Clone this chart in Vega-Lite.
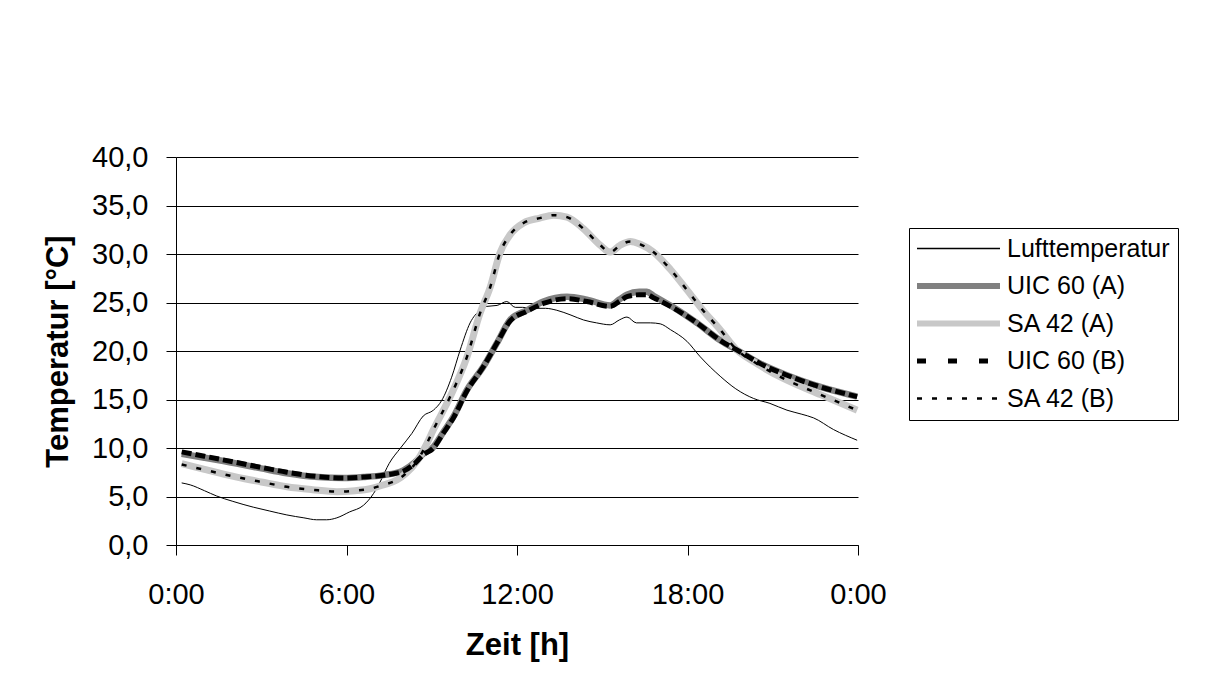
{
  "$schema": "https://vega.github.io/schema/vega-lite/v6.json",
  "width": 682,
  "height": 388,
  "autosize": "none",
  "padding": {"left": 176, "top": 157, "right": 353, "bottom": 142},
  "background": "white",
  "config": {
    "font": "Liberation Sans",
    "view": {"stroke": null},
    "axis": {"labelFont": "Liberation Sans", "titleFont": "Liberation Sans", "labelColor": "black", "titleColor": "black", "domainColor": "black", "tickColor": "black"}
  },
  "datasets": {
    "temps": [
      {"s": "Lufttemperatur", "h": 0.2, "t": 6.4},
      {"s": "Lufttemperatur", "h": 0.5, "t": 6.2},
      {"s": "Lufttemperatur", "h": 1.0, "t": 5.6},
      {"s": "Lufttemperatur", "h": 1.43, "t": 5.05},
      {"s": "Lufttemperatur", "h": 2.0, "t": 4.5},
      {"s": "Lufttemperatur", "h": 2.72, "t": 3.9},
      {"s": "Lufttemperatur", "h": 3.3, "t": 3.5},
      {"s": "Lufttemperatur", "h": 3.9, "t": 3.1},
      {"s": "Lufttemperatur", "h": 4.5, "t": 2.8},
      {"s": "Lufttemperatur", "h": 4.95, "t": 2.6},
      {"s": "Lufttemperatur", "h": 5.3, "t": 2.6},
      {"s": "Lufttemperatur", "h": 5.66, "t": 2.8},
      {"s": "Lufttemperatur", "h": 6.1, "t": 3.4},
      {"s": "Lufttemperatur", "h": 6.6, "t": 4.1},
      {"s": "Lufttemperatur", "h": 6.95, "t": 5.3},
      {"s": "Lufttemperatur", "h": 7.2, "t": 6.6},
      {"s": "Lufttemperatur", "h": 7.5, "t": 8.4},
      {"s": "Lufttemperatur", "h": 7.9, "t": 10.0},
      {"s": "Lufttemperatur", "h": 8.3, "t": 11.5},
      {"s": "Lufttemperatur", "h": 8.7, "t": 13.3},
      {"s": "Lufttemperatur", "h": 9.06, "t": 13.9},
      {"s": "Lufttemperatur", "h": 9.35, "t": 14.9},
      {"s": "Lufttemperatur", "h": 9.7, "t": 17.3},
      {"s": "Lufttemperatur", "h": 10.0, "t": 20.1},
      {"s": "Lufttemperatur", "h": 10.35, "t": 22.9},
      {"s": "Lufttemperatur", "h": 10.7, "t": 24.2},
      {"s": "Lufttemperatur", "h": 10.94, "t": 24.6},
      {"s": "Lufttemperatur", "h": 11.3, "t": 24.7},
      {"s": "Lufttemperatur", "h": 11.64, "t": 25.1},
      {"s": "Lufttemperatur", "h": 11.94, "t": 24.5},
      {"s": "Lufttemperatur", "h": 12.2, "t": 24.5},
      {"s": "Lufttemperatur", "h": 12.58, "t": 24.4},
      {"s": "Lufttemperatur", "h": 13.0, "t": 24.4},
      {"s": "Lufttemperatur", "h": 13.4, "t": 24.2},
      {"s": "Lufttemperatur", "h": 13.9, "t": 23.7},
      {"s": "Lufttemperatur", "h": 14.34, "t": 23.2},
      {"s": "Lufttemperatur", "h": 14.8, "t": 22.9},
      {"s": "Lufttemperatur", "h": 15.28, "t": 22.7},
      {"s": "Lufttemperatur", "h": 15.6, "t": 23.2},
      {"s": "Lufttemperatur", "h": 15.87, "t": 23.5},
      {"s": "Lufttemperatur", "h": 16.2, "t": 22.9},
      {"s": "Lufttemperatur", "h": 16.7, "t": 22.9},
      {"s": "Lufttemperatur", "h": 17.04, "t": 22.8},
      {"s": "Lufttemperatur", "h": 17.4, "t": 22.2},
      {"s": "Lufttemperatur", "h": 17.98, "t": 21.0},
      {"s": "Lufttemperatur", "h": 18.45, "t": 19.4},
      {"s": "Lufttemperatur", "h": 19.15, "t": 17.4},
      {"s": "Lufttemperatur", "h": 19.7, "t": 16.1},
      {"s": "Lufttemperatur", "h": 20.33, "t": 15.1},
      {"s": "Lufttemperatur", "h": 20.9, "t": 14.6},
      {"s": "Lufttemperatur", "h": 21.5, "t": 13.9},
      {"s": "Lufttemperatur", "h": 22.0, "t": 13.5},
      {"s": "Lufttemperatur", "h": 22.44, "t": 13.1},
      {"s": "Lufttemperatur", "h": 23.14, "t": 11.9},
      {"s": "Lufttemperatur", "h": 23.97, "t": 10.8},

      {"s": "UIC 60 (A)", "h": 0.2, "t": 9.4},
      {"s": "UIC 60 (A)", "h": 1.0, "t": 9.0},
      {"s": "UIC 60 (A)", "h": 2.14, "t": 8.4},
      {"s": "UIC 60 (A)", "h": 3.0, "t": 7.9},
      {"s": "UIC 60 (A)", "h": 3.9, "t": 7.4},
      {"s": "UIC 60 (A)", "h": 5.0, "t": 7.0},
      {"s": "UIC 60 (A)", "h": 5.9, "t": 6.9},
      {"s": "UIC 60 (A)", "h": 6.6, "t": 7.0},
      {"s": "UIC 60 (A)", "h": 7.3, "t": 7.2},
      {"s": "UIC 60 (A)", "h": 8.0, "t": 7.7},
      {"s": "UIC 60 (A)", "h": 8.4, "t": 8.5},
      {"s": "UIC 60 (A)", "h": 8.7, "t": 9.4},
      {"s": "UIC 60 (A)", "h": 9.06, "t": 10.1},
      {"s": "UIC 60 (A)", "h": 9.4, "t": 11.6},
      {"s": "UIC 60 (A)", "h": 9.76, "t": 13.2},
      {"s": "UIC 60 (A)", "h": 10.24, "t": 16.0},
      {"s": "UIC 60 (A)", "h": 10.82, "t": 18.4},
      {"s": "UIC 60 (A)", "h": 11.29, "t": 20.8},
      {"s": "UIC 60 (A)", "h": 11.76, "t": 23.2},
      {"s": "UIC 60 (A)", "h": 12.35, "t": 24.2},
      {"s": "UIC 60 (A)", "h": 12.93, "t": 25.1},
      {"s": "UIC 60 (A)", "h": 13.76, "t": 25.6},
      {"s": "UIC 60 (A)", "h": 14.46, "t": 25.3},
      {"s": "UIC 60 (A)", "h": 15.28, "t": 24.7},
      {"s": "UIC 60 (A)", "h": 15.6, "t": 25.3},
      {"s": "UIC 60 (A)", "h": 15.87, "t": 25.8},
      {"s": "UIC 60 (A)", "h": 16.3, "t": 26.1},
      {"s": "UIC 60 (A)", "h": 16.57, "t": 26.1},
      {"s": "UIC 60 (A)", "h": 16.8, "t": 25.7},
      {"s": "UIC 60 (A)", "h": 17.4, "t": 24.7},
      {"s": "UIC 60 (A)", "h": 18.33, "t": 22.9},
      {"s": "UIC 60 (A)", "h": 19.15, "t": 21.1},
      {"s": "UIC 60 (A)", "h": 19.86, "t": 19.9},
      {"s": "UIC 60 (A)", "h": 20.56, "t": 18.7},
      {"s": "UIC 60 (A)", "h": 21.5, "t": 17.5},
      {"s": "UIC 60 (A)", "h": 22.68, "t": 16.3},
      {"s": "UIC 60 (A)", "h": 23.97, "t": 15.3},

      {"s": "SA 42 (A)", "h": 0.2, "t": 8.4},
      {"s": "SA 42 (A)", "h": 1.0, "t": 7.8},
      {"s": "SA 42 (A)", "h": 2.14, "t": 7.0},
      {"s": "SA 42 (A)", "h": 3.0, "t": 6.5},
      {"s": "SA 42 (A)", "h": 3.9, "t": 6.0},
      {"s": "SA 42 (A)", "h": 4.8, "t": 5.7},
      {"s": "SA 42 (A)", "h": 5.66, "t": 5.5},
      {"s": "SA 42 (A)", "h": 6.3, "t": 5.6},
      {"s": "SA 42 (A)", "h": 6.83, "t": 5.8},
      {"s": "SA 42 (A)", "h": 7.3, "t": 6.2},
      {"s": "SA 42 (A)", "h": 7.77, "t": 6.7},
      {"s": "SA 42 (A)", "h": 8.1, "t": 7.4},
      {"s": "SA 42 (A)", "h": 8.47, "t": 8.6},
      {"s": "SA 42 (A)", "h": 8.8, "t": 10.3},
      {"s": "SA 42 (A)", "h": 9.06, "t": 11.9},
      {"s": "SA 42 (A)", "h": 9.65, "t": 15.3},
      {"s": "SA 42 (A)", "h": 10.24, "t": 19.4},
      {"s": "SA 42 (A)", "h": 10.7, "t": 23.9},
      {"s": "SA 42 (A)", "h": 11.06, "t": 26.6},
      {"s": "SA 42 (A)", "h": 11.4, "t": 30.1},
      {"s": "SA 42 (A)", "h": 11.76, "t": 32.0},
      {"s": "SA 42 (A)", "h": 12.23, "t": 33.2},
      {"s": "SA 42 (A)", "h": 12.8, "t": 33.7},
      {"s": "SA 42 (A)", "h": 13.29, "t": 34.0},
      {"s": "SA 42 (A)", "h": 13.76, "t": 33.8},
      {"s": "SA 42 (A)", "h": 14.34, "t": 32.6},
      {"s": "SA 42 (A)", "h": 14.93, "t": 30.9},
      {"s": "SA 42 (A)", "h": 15.28, "t": 30.2},
      {"s": "SA 42 (A)", "h": 15.63, "t": 30.9},
      {"s": "SA 42 (A)", "h": 15.99, "t": 31.3},
      {"s": "SA 42 (A)", "h": 16.34, "t": 31.0},
      {"s": "SA 42 (A)", "h": 16.8, "t": 30.2},
      {"s": "SA 42 (A)", "h": 17.4, "t": 28.4},
      {"s": "SA 42 (A)", "h": 17.98, "t": 26.3},
      {"s": "SA 42 (A)", "h": 18.57, "t": 24.1},
      {"s": "SA 42 (A)", "h": 19.15, "t": 22.2},
      {"s": "SA 42 (A)", "h": 19.74, "t": 20.1},
      {"s": "SA 42 (A)", "h": 20.33, "t": 18.9},
      {"s": "SA 42 (A)", "h": 20.9, "t": 17.9},
      {"s": "SA 42 (A)", "h": 21.5, "t": 17.0},
      {"s": "SA 42 (A)", "h": 22.68, "t": 15.5},
      {"s": "SA 42 (A)", "h": 23.97, "t": 13.9},

      {"s": "UIC 60 (B)", "h": 0.2, "t": 9.6},
      {"s": "UIC 60 (B)", "h": 1.0, "t": 9.15},
      {"s": "UIC 60 (B)", "h": 2.14, "t": 8.5},
      {"s": "UIC 60 (B)", "h": 3.0, "t": 8.0},
      {"s": "UIC 60 (B)", "h": 3.9, "t": 7.5},
      {"s": "UIC 60 (B)", "h": 5.0, "t": 7.05},
      {"s": "UIC 60 (B)", "h": 5.9, "t": 6.9},
      {"s": "UIC 60 (B)", "h": 6.6, "t": 7.0},
      {"s": "UIC 60 (B)", "h": 7.3, "t": 7.2},
      {"s": "UIC 60 (B)", "h": 8.0, "t": 7.6},
      {"s": "UIC 60 (B)", "h": 8.4, "t": 8.4},
      {"s": "UIC 60 (B)", "h": 8.7, "t": 9.3},
      {"s": "UIC 60 (B)", "h": 9.06, "t": 10.0},
      {"s": "UIC 60 (B)", "h": 9.4, "t": 11.5},
      {"s": "UIC 60 (B)", "h": 9.76, "t": 13.1},
      {"s": "UIC 60 (B)", "h": 10.24, "t": 15.9},
      {"s": "UIC 60 (B)", "h": 10.82, "t": 18.4},
      {"s": "UIC 60 (B)", "h": 11.29, "t": 20.8},
      {"s": "UIC 60 (B)", "h": 11.76, "t": 23.1},
      {"s": "UIC 60 (B)", "h": 12.35, "t": 24.1},
      {"s": "UIC 60 (B)", "h": 12.93, "t": 24.9},
      {"s": "UIC 60 (B)", "h": 13.76, "t": 25.4},
      {"s": "UIC 60 (B)", "h": 14.46, "t": 25.1},
      {"s": "UIC 60 (B)", "h": 15.28, "t": 24.6},
      {"s": "UIC 60 (B)", "h": 15.6, "t": 25.1},
      {"s": "UIC 60 (B)", "h": 15.87, "t": 25.6},
      {"s": "UIC 60 (B)", "h": 16.3, "t": 25.8},
      {"s": "UIC 60 (B)", "h": 16.57, "t": 25.8},
      {"s": "UIC 60 (B)", "h": 16.8, "t": 25.5},
      {"s": "UIC 60 (B)", "h": 17.4, "t": 24.6},
      {"s": "UIC 60 (B)", "h": 18.33, "t": 22.9},
      {"s": "UIC 60 (B)", "h": 19.15, "t": 21.1},
      {"s": "UIC 60 (B)", "h": 19.86, "t": 19.9},
      {"s": "UIC 60 (B)", "h": 20.56, "t": 18.7},
      {"s": "UIC 60 (B)", "h": 21.5, "t": 17.5},
      {"s": "UIC 60 (B)", "h": 22.68, "t": 16.3},
      {"s": "UIC 60 (B)", "h": 23.97, "t": 15.3},

      {"s": "SA 42 (B)", "h": 0.2, "t": 8.3},
      {"s": "SA 42 (B)", "h": 1.0, "t": 7.75},
      {"s": "SA 42 (B)", "h": 2.14, "t": 7.0},
      {"s": "SA 42 (B)", "h": 3.0, "t": 6.5},
      {"s": "SA 42 (B)", "h": 3.9, "t": 6.0},
      {"s": "SA 42 (B)", "h": 4.8, "t": 5.7},
      {"s": "SA 42 (B)", "h": 5.66, "t": 5.5},
      {"s": "SA 42 (B)", "h": 6.3, "t": 5.6},
      {"s": "SA 42 (B)", "h": 6.83, "t": 5.8},
      {"s": "SA 42 (B)", "h": 7.3, "t": 6.2},
      {"s": "SA 42 (B)", "h": 7.77, "t": 6.7},
      {"s": "SA 42 (B)", "h": 8.1, "t": 7.4},
      {"s": "SA 42 (B)", "h": 8.47, "t": 8.6},
      {"s": "SA 42 (B)", "h": 8.8, "t": 10.3},
      {"s": "SA 42 (B)", "h": 9.06, "t": 11.9},
      {"s": "SA 42 (B)", "h": 9.65, "t": 15.3},
      {"s": "SA 42 (B)", "h": 10.24, "t": 19.4},
      {"s": "SA 42 (B)", "h": 10.7, "t": 23.9},
      {"s": "SA 42 (B)", "h": 11.06, "t": 26.6},
      {"s": "SA 42 (B)", "h": 11.4, "t": 30.1},
      {"s": "SA 42 (B)", "h": 11.76, "t": 32.0},
      {"s": "SA 42 (B)", "h": 12.23, "t": 33.2},
      {"s": "SA 42 (B)", "h": 12.8, "t": 33.7},
      {"s": "SA 42 (B)", "h": 13.29, "t": 34.0},
      {"s": "SA 42 (B)", "h": 13.76, "t": 33.8},
      {"s": "SA 42 (B)", "h": 14.34, "t": 32.6},
      {"s": "SA 42 (B)", "h": 14.93, "t": 30.9},
      {"s": "SA 42 (B)", "h": 15.28, "t": 30.2},
      {"s": "SA 42 (B)", "h": 15.63, "t": 30.9},
      {"s": "SA 42 (B)", "h": 15.99, "t": 31.3},
      {"s": "SA 42 (B)", "h": 16.34, "t": 31.0},
      {"s": "SA 42 (B)", "h": 16.8, "t": 30.2},
      {"s": "SA 42 (B)", "h": 17.4, "t": 28.4},
      {"s": "SA 42 (B)", "h": 17.98, "t": 26.3},
      {"s": "SA 42 (B)", "h": 18.57, "t": 24.1},
      {"s": "SA 42 (B)", "h": 19.15, "t": 22.2},
      {"s": "SA 42 (B)", "h": 19.74, "t": 20.1},
      {"s": "SA 42 (B)", "h": 20.33, "t": 18.9},
      {"s": "SA 42 (B)", "h": 20.9, "t": 17.9},
      {"s": "SA 42 (B)", "h": 21.5, "t": 17.0},
      {"s": "SA 42 (B)", "h": 22.68, "t": 15.5},
      {"s": "SA 42 (B)", "h": 23.97, "t": 13.9}
    ]
  },
  "data": {"name": "temps"},
  "encoding": {
    "x": {
      "field": "h", "type": "quantitative",
      "scale": {"domain": [0, 24], "nice": false, "zero": false},
      "axis": {
        "values": [0, 6, 12, 18, 24],
        "labelExpr": "(datum.value == 24 ? 0 : datum.value) + ':00'",
        "grid": false,
        "tickSize": 10,
        "labelPadding": 25,
        "labelFontSize": 29,
        "labelBaseline": "top",
        "labelFlush": false,
        "title": "Zeit [h]",
        "titleFontSize": 31,
        "titleFontWeight": "bold",
        "titleBaseline": "top",
        "titleY": 85
      }
    },
    "y": {
      "field": "t", "type": "quantitative",
      "scale": {"domain": [0, 40], "nice": false},
      "axis": {
        "values": [0, 5, 10, 15, 20, 25, 30, 35, 40],
        "labelExpr": "replace(format(datum.value, '.1f'), '.', ',')",
        "grid": true,
        "gridColor": "black",
        "gridOpacity": 1,
        "tickSize": 10,
        "labelPadding": 18,
        "labelFontSize": 29,
        "labelFlush": false,
        "title": "Temperatur [°C]",
        "titleFontSize": 31,
        "titleFontWeight": "bold",
        "titleAngle": -90,
        "titleAlign": "center",
        "titleBaseline": "middle",
        "titleX": -118,
        "titleY": 194
      }
    },
    "color": {
      "field": "s", "type": "nominal",
      "scale": {
        "domain": ["Lufttemperatur", "UIC 60 (A)", "SA 42 (A)", "UIC 60 (B)", "SA 42 (B)"],
        "range": ["#000000", "#808080", "#c8c8c8", "#000000", "#000000"]
      },
      "legend": {
        "title": null,
        "orient": "none",
        "legendX": 733,
        "legendY": 71,
        "strokeColor": "black",
        "fillColor": "white",
        "padding": 8,
        "symbolType": "stroke",
        "symbolSize": 6889,
        "symbolOffset": 29,
        "labelFontSize": 25,
        "labelFont": "Liberation Sans",
        "labelColor": "black",
        "labelOffset": 36,
        "rowPadding": 11.5,
        "labelLimit": 300,
        "encode": {
          "symbols": {
            "update": {
              "strokeWidth": {"signal": "datum.value == 'Lufttemperatur' ? 1.5 : datum.value == 'UIC 60 (A)' ? 6 : datum.value == 'SA 42 (A)' ? 6 : datum.value == 'UIC 60 (B)' ? 5 : 2.5"},
              "strokeDash": {"signal": "datum.value == 'UIC 60 (B)' ? [9, 22] : datum.value == 'SA 42 (B)' ? [5, 10] : [1, 0]"}
            }
          }
        }
      }
    }
  },
  "layer": [
    {"transform": [{"filter": "datum.s == 'Lufttemperatur'"}], "mark": {"type": "line", "interpolate": "monotone", "strokeWidth": 1}},
    {"transform": [{"filter": "datum.s == 'UIC 60 (A)'"}], "mark": {"type": "line", "interpolate": "monotone", "strokeWidth": 6.5}},
    {"transform": [{"filter": "datum.s == 'SA 42 (A)'"}], "mark": {"type": "line", "interpolate": "monotone", "strokeWidth": 7}},
    {"transform": [{"filter": "datum.s == 'UIC 60 (B)'"}], "mark": {"type": "line", "interpolate": "monotone", "strokeWidth": 5, "strokeDash": [10, 4]}},
    {"transform": [{"filter": "datum.s == 'SA 42 (B)'"}], "mark": {"type": "line", "interpolate": "monotone", "strokeWidth": 2.5, "strokeDash": [5, 10]}}
  ]
}
